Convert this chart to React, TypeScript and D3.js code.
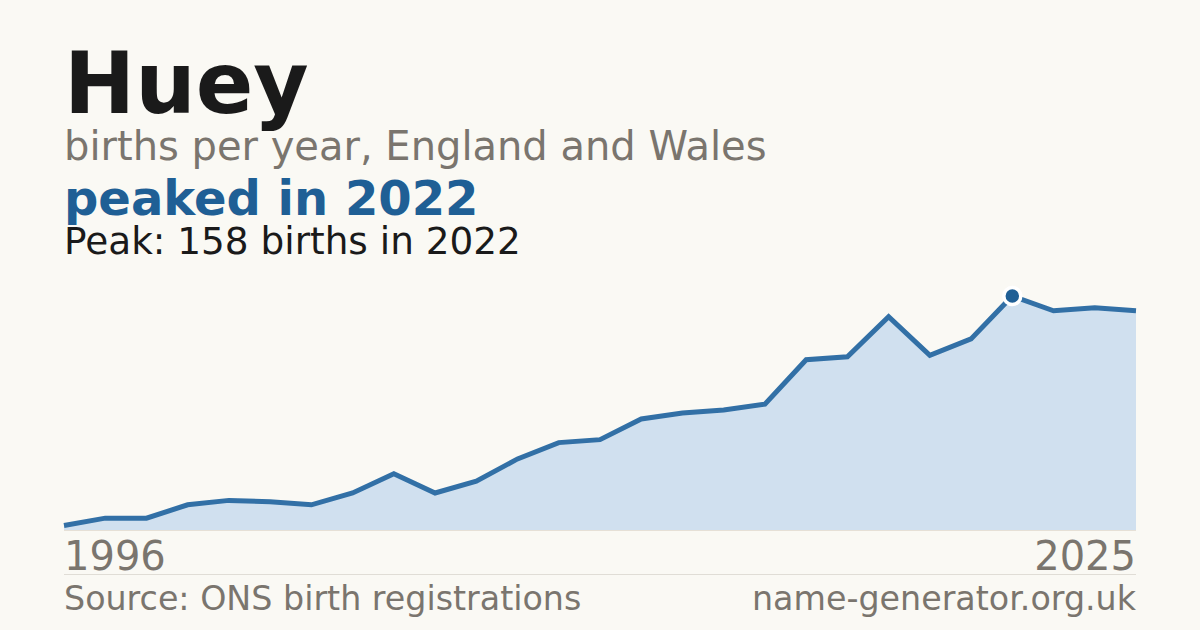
// Baby name trend card: births per year with peak highlight
import React, { useEffect, useRef } from 'react';
import * as d3 from 'd3';

const NAME = 'Huey';
const SUBTITLE = 'births per year, England and Wales';
const HEADLINE = 'peaked in 2022';
const SOURCE = 'Source: ONS birth registrations';
const SITE = 'name-generator.org.uk';

// Years with published counts (names under 3 births are not published)
const years: number[] = [
  1996, 2000, 2001, 2002, 2003, 2004, 2005, 2006, 2007, 2008, 2009, 2010, 2011, 2012,
  2013, 2014, 2015, 2016, 2017, 2018, 2019, 2020, 2021, 2022, 2023, 2024, 2025,
];
const births: number[] = [
  3, 8, 8, 17, 20, 19, 17, 25, 38, 25, 33, 48, 59, 61,
  75, 79, 81, 85, 115, 117, 144, 118, 129, 158, 148, 150, 148,
];

const App: React.FC = () => {
  const svgRef = useRef<SVGSVGElement>(null);

  useEffect(() => {
    document.body.style.margin = '0';
    const svg = d3.select(svgRef.current);
    svg.selectAll('*').remove();

    const width = 1200;
    const height = 630;
    const margin = { left: 64, right: 64 };
    const plotTop = 296;
    const plotBottom = 530;
    const font = '"DejaVu Sans", Verdana, sans-serif';

    svg.attr('width', width).attr('height', height);

    svg.append('rect').attr('width', width).attr('height', height).attr('fill', '#faf9f4');

    const data = years.map((y, i) => ({ year: y, value: births[i] }));

    const xScale = d3
      .scalePoint<number>()
      .domain(years)
      .range([margin.left, width - margin.right]);

    const maxVal = d3.max(births) as number;
    const yScale = d3.scaleLinear().domain([0, maxVal]).range([plotBottom, plotTop]);

    // Area under the line
    const area = d3
      .area<{ year: number; value: number }>()
      .x((d) => xScale(d.year) as number)
      .y0(yScale(0))
      .y1((d) => yScale(d.value));

    svg.append('path').datum(data).attr('fill', '#d0e0ef').attr('d', area);

    // Baseline
    svg
      .append('line')
      .attr('x1', margin.left)
      .attr('x2', width - margin.right)
      .attr('y1', yScale(0) + 0.5)
      .attr('y2', yScale(0) + 0.5)
      .attr('stroke', '#e6e0d6')
      .attr('stroke-width', 1);

    const line = d3
      .line<{ year: number; value: number }>()
      .x((d) => xScale(d.year) as number)
      .y((d) => yScale(d.value));

    svg
      .append('path')
      .datum(data)
      .attr('fill', 'none')
      .attr('stroke', '#3270a6')
      .attr('stroke-width', 5)
      .attr('stroke-linejoin', 'miter')
      .attr('d', line);

    // Peak marker
    const peak = data.reduce((a, b) => (b.value > a.value ? b : a));
    svg
      .append('circle')
      .attr('cx', xScale(peak.year) as number)
      .attr('cy', yScale(peak.value))
      .attr('r', 8.5)
      .attr('fill', '#1f5f95')
      .attr('stroke', '#ffffff')
      .attr('stroke-width', 3.5);

    // Titles
    svg
      .append('text')
      .attr('x', 64)
      .attr('y', 113)
      .style('font-family', font)
      .style('font-size', '85px')
      .style('font-weight', '700')
      .attr('fill', '#1a1a1a')
      .text(NAME);

    svg
      .append('text')
      .attr('x', 64)
      .attr('y', 160)
      .style('font-family', font)
      .style('font-size', '40px')
      .attr('fill', '#7a756e')
      .text(SUBTITLE);

    svg
      .append('text')
      .attr('x', 64)
      .attr('y', 215)
      .style('font-family', font)
      .style('font-size', '48px')
      .style('font-weight', '700')
      .attr('fill', '#1f5f95')
      .text(HEADLINE);

    svg
      .append('text')
      .attr('x', 64)
      .attr('y', 254)
      .style('font-family', font)
      .style('font-size', '37.4px')
      .attr('fill', '#1a1a1a')
      .text(`Peak: ${peak.value} births in ${peak.year}`);

    // Year labels at ends
    const first = years[0];
    const last = years[years.length - 1];
    svg
      .append('text')
      .attr('x', xScale(first) as number)
      .attr('y', 570)
      .style('font-family', font)
      .style('font-size', '40px')
      .attr('fill', '#7a756e')
      .text(String(first));

    svg
      .append('text')
      .attr('x', xScale(last) as number)
      .attr('y', 570)
      .attr('text-anchor', 'end')
      .style('font-family', font)
      .style('font-size', '40px')
      .attr('fill', '#7a756e')
      .text(String(last));

    // Footer
    svg
      .append('line')
      .attr('x1', margin.left)
      .attr('x2', width - margin.right)
      .attr('y1', 574.5)
      .attr('y2', 574.5)
      .attr('stroke', '#e0ddd6')
      .attr('stroke-width', 1);

    svg
      .append('text')
      .attr('x', 64)
      .attr('y', 610)
      .style('font-family', font)
      .style('font-size', '33.3px')
      .attr('fill', '#7a756e')
      .text(SOURCE);

    svg
      .append('text')
      .attr('x', width - margin.right)
      .attr('y', 610)
      .attr('text-anchor', 'end')
      .style('font-family', font)
      .style('font-size', '33.3px')
      .attr('fill', '#7a756e')
      .text(SITE);
  }, []);

  return (
    <div style={{ width: '1200px', height: '630px' }}>
      <svg ref={svgRef} style={{ display: 'block' }}></svg>
    </div>
  );
};

export default App;
